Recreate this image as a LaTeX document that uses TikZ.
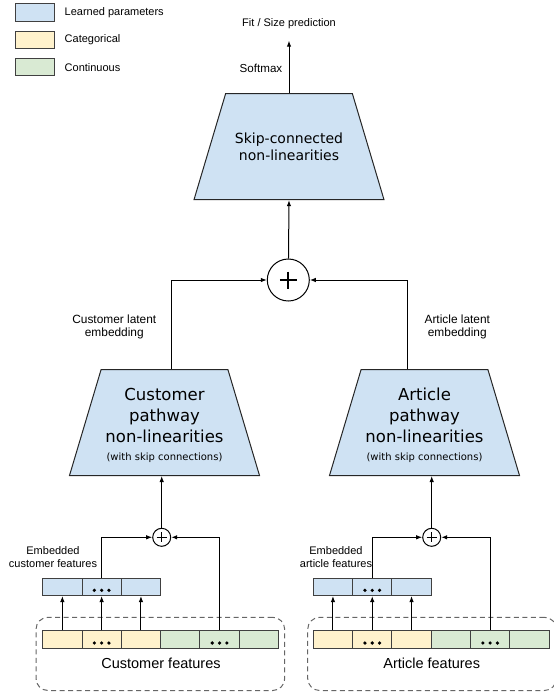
\documentclass[tikz,border=0pt]{standalone}
\usepackage{fontspec}
\setmainfont{Liberation Sans}
\newfontfamily\dejavu{DejaVu Sans}
\usetikzlibrary{shapes.geometric,arrows.meta}
\definecolor{lblue}{HTML}{CFE2F3}
\definecolor{lyellow}{HTML}{FFF2CC}
\definecolor{lgreen}{HTML}{D9EAD3}
\definecolor{dgrey}{HTML}{404040}
\tikzstyle{cell}=[rectangle, draw=dgrey, line width=1, minimum width=39.3pt, minimum height=17.5pt, inner sep=0pt]
\tikzstyle{learned}=[cell, fill=lblue]
\tikzstyle{catg}=[cell, fill=lyellow]
\tikzstyle{cont}=[cell, fill=lgreen]
\tikzstyle{trap}=[trapezium, trapezium left angle=76, trapezium right angle=76, trapezium stretches=true, draw=black!85, fill=lblue, line width=1, minimum width=190pt, minimum height=106pt, inner sep=2pt]
\tikzstyle{sum}=[circle, draw=black, line width=1, fill=white, inner sep=0pt]
\tikzstyle{grp}=[rectangle, draw=black!60, dash pattern=on 5pt off 3.5pt, rounded corners=12pt, line width=1, minimum width=248.7pt, minimum height=73.2pt]
\tikzstyle{l1}=[line width=1]
\tikzstyle{lbl}=[font=\fontsize{11}{13.5}\selectfont, align=center]
\tikzstyle{lat}=[font=\fontsize{11.9}{13.5}\selectfont, align=center]
\tikzstyle{big}=[font=\dejavu\fontsize{16.5}{20.8}\selectfont, align=center]

\begin{document}
\begin{tikzpicture}[x=1pt,y=-1pt,>={Latex[length=6pt,width=4.5pt]}]
    \useasboundingbox (0,0) rectangle (554,696);
    % legend
    \node[learned] (kl) at (34.7,12.3) {};
    \node[catg]    (kc) at (34.7,39.9) {};
    \node[cont]    (kn) at (34.7,67.2) {};
    \node[lbl, anchor=west, inner sep=0pt] at (64.5,12.3) {Learned parameters};
    \node[lbl, anchor=west, inner sep=0pt] at (64.5,39.9) {Categorical};
    \node[lbl, anchor=west, inner sep=0pt] at (64.5,67.2) {Continuous};

    % top block
    \node[trap] (top) at (289,146.7) {};
    \node[font=\dejavu\fontsize{14}{17}\selectfont, align=center] at (top.center) {Skip-connected\\non-linearities};
    \coordinate (out) at (289,40.7);
    \draw[l1, ->] (top.north) -- (out);
    \node[lbl] at (289,24) {Fit / Size prediction};
    \node[lbl, font=\fontsize{11.6}{13.5}\selectfont] at (261,68.3) {Softmax};

    \node[sum, minimum size=42pt] (s) at (288.3,280) {};
    \draw[line width=2] (s.center) +(-8.5,0) -- +(8.5,0) (s.center) +(0,-8.5) -- +(0,8.5);
    \draw[l1, ->] (s) -- (top.south);

    % pathways
    \node[trap] (pl) at (164.5,422.5) {};
    \node[trap] (pr) at (424.5,422.5) {};
    \node[big] at ([yshift=-3pt]pl.center) {Customer\\pathway\\non-linearities\\[-2.3pt]{\fontsize{10}{12}\selectfont (with skip connections)}};
    \node[big] at ([yshift=-3pt]pr.center) {Article\\pathway\\non-linearities\\[-2.3pt]{\fontsize{10}{12}\selectfont (with skip connections)}};
    \draw[l1, ->] ([xshift=7.2pt]pl.north) |- (s);
    \draw[l1, ->] ([xshift=-17pt]pr.north) |- (s);
    \node[lat] at (114.3,326.7) {Customer latent\\embedding};
    \node[lat] at (457.3,326.7) {Article latent\\embedding};

    % customer features
    \node[grp] (ga) at (160.35,653.9) {};
    \node[catg] (ca1) at (62.35,639.5) {};
    \node[catg] (ca2) at (101.65,639.5) {};
    \node[catg] (ca3) at (140.95,639.5) {};
    \node[cont] (na1) at (180.25,639.5) {};
    \node[cont] (na2) at (219.55,639.5) {};
    \node[cont] (na3) at (258.85,639.5) {};
    \node[learned] (ea1) at (62.35,586.8) {};
    \node[learned] (ea2) at (101.65,586.8) {};
    \node[learned] (ea3) at (140.95,586.8) {};
    \node[sum, minimum size=18pt] (sa) at (161.7,537.3) {};
    \draw[l1] (sa.center) +(-5,0) -- +(5,0) (sa.center) +(0,-5) -- +(0,5);
    \draw[l1, ->] (ca1) -- (ea1);
    \draw[l1, ->] (ca2) -- (ea2);
    \draw[l1, ->] (ca3) -- (ea3);
    \draw[l1, ->] (ea2) |- (sa);
    \draw[l1, ->] (na2) |- (sa);
    \draw[l1, ->] (sa) -- (sa |- pl.south);
    \node[lbl] at (53,557) {Embedded\\customer features};
    \node[font=\fontsize{14.5}{17}\selectfont] at (161,663) {Customer features};

    % article features
    \node[grp] (gb) at (432.05,653.9) {};
    \node[catg] (cb1) at (332.95,639.5) {};
    \node[catg] (cb2) at (372.25,639.5) {};
    \node[catg] (cb3) at (411.55,639.5) {};
    \node[cont] (nb1) at (450.85,639.5) {};
    \node[cont] (nb2) at (490.15,639.5) {};
    \node[cont] (nb3) at (529.45,639.5) {};
    \node[learned] (eb1) at (332.95,586.8) {};
    \node[learned] (eb2) at (372.25,586.8) {};
    \node[learned] (eb3) at (411.55,586.8) {};
    \node[sum, minimum size=18pt] (sb) at (431.7,537.3) {};
    \draw[l1] (sb.center) +(-5,0) -- +(5,0) (sb.center) +(0,-5) -- +(0,5);
    \draw[l1, ->] (cb1) -- (eb1);
    \draw[l1, ->] (cb2) -- (eb2);
    \draw[l1, ->] (cb3) -- (eb3);
    \draw[l1, ->] (eb2) |- (sb);
    \draw[l1, ->] (nb2) |- (sb);
    \draw[l1, ->] (sb) -- (sb |- pr.south);
    \node[lbl] at (336,557) {Embedded\\article features};
    \node[font=\fontsize{14.5}{17}\selectfont] at (431.7,663) {Article features};

    \foreach \c in {ea2,ca2,na2,eb2,cb2,nb2}
        \fill ([yshift=-3.5pt]\c.center) +(-7.3,0) circle (1.8pt) +(0,0) circle (1.8pt) +(7.3,0) circle (1.8pt);
\end{tikzpicture}
\end{document}
